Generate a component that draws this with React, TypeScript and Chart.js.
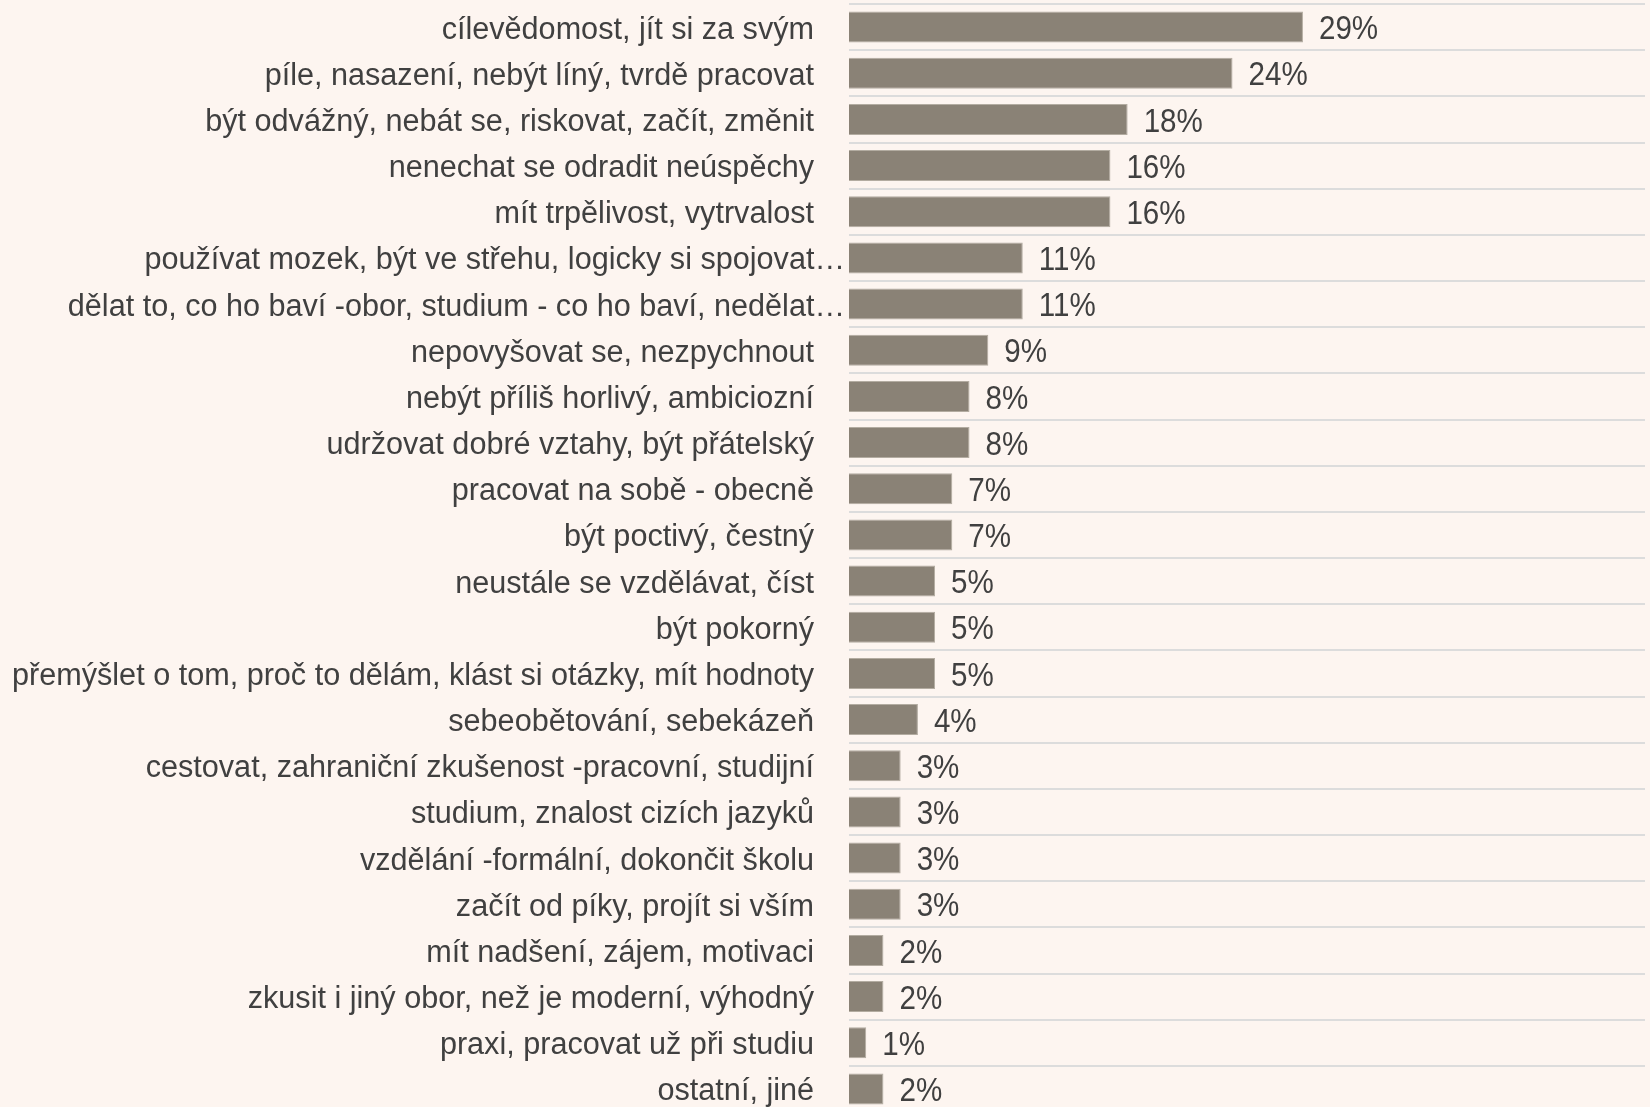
import React, { useEffect, useRef } from "react";
import { Chart, registerables } from "chart.js";

Chart.register(...registerables);

const categories: string[] = [
  "cílevědomost, jít si za svým",
  "píle, nasazení, nebýt líný, tvrdě pracovat",
  "být odvážný, nebát se, riskovat, začít, změnit",
  "nenechat se odradit neúspěchy",
  "mít trpělivost, vytrvalost",
  "používat mozek, být ve střehu, logicky si spojovat…",
  "dělat to, co ho baví -obor, studium - co ho baví, nedělat…",
  "nepovyšovat se, nezpychnout",
  "nebýt příliš horlivý, ambiciozní",
  "udržovat dobré vztahy, být přátelský",
  "pracovat na sobě - obecně",
  "být poctivý, čestný",
  "neustále se vzdělávat, číst",
  "být pokorný",
  "přemýšlet o tom, proč to dělám, klást si otázky, mít hodnoty",
  "sebeobětování, sebekázeň",
  "cestovat, zahraniční zkušenost -pracovní, studijní",
  "studium, znalost cizích jazyků",
  "vzdělání -formální, dokončit školu",
  "začít od píky, projít si vším",
  "mít nadšení, zájem, motivaci",
  "zkusit i jiný obor, než je moderní, výhodný",
  "praxi, pracovat už při studiu",
  "ostatní, jiné",
];

const values: number[] = [
  29.0, 24.5, 17.8, 16.7, 16.7, 11.1, 11.1, 8.9, 7.7, 7.7, 6.6, 6.6, 5.5, 5.5,
  5.5, 4.4, 3.3, 3.3, 3.3, 3.3, 2.2, 2.2, 1.1, 2.2,
];

const valueLabels: string[] = [
  "29%", "24%", "18%", "16%", "16%", "11%", "11%", "9%", "8%", "8%", "7%",
  "7%", "5%", "5%", "5%", "4%", "3%", "3%", "3%", "3%", "2%", "2%", "1%", "2%",
];

const FONT = "'Liberation Sans', Arial, sans-serif";
const TEXT_COLOR = "#404040";

function drawText(
  ctx: CanvasRenderingContext2D,
  text: string,
  x: number,
  y: number,
  align: CanvasTextAlign,
  sx: number
) {
  ctx.save();
  ctx.translate(x, y);
  ctx.scale(sx, 1);
  ctx.textAlign = align;
  ctx.fillText(text, 0, 0);
  ctx.restore();
}

const labelsPlugin = {
  id: "customLabels",
  afterDatasetsDraw(chart: any) {
    const ctx = chart.ctx as CanvasRenderingContext2D;
    const yScale = chart.scales.y;
    const xScale = chart.scales.x;
    const left = chart.chartArea.left;
    ctx.save();
    ctx.fillStyle = TEXT_COLOR;
    ctx.textBaseline = "alphabetic";
    categories.forEach((cat, i) => {
      const yc = yScale.getPixelForValue(i);
      const truncated = cat.endsWith("…");
      ctx.font = `30.6px ${FONT}`;
      drawText(ctx, cat, truncated ? left - 4 : left - 35, yc + 11.5, "right", 1);
      ctx.font = `34px ${FONT}`;
      drawText(ctx, valueLabels[i], xScale.getPixelForValue(values[i]) + 16, yc + 12.2, "left", 0.87);
    });
    ctx.restore();
  },
};

export default function App() {
  const canvasRef = useRef<HTMLCanvasElement | null>(null);

  useEffect(() => {
    document.body.style.margin = "0";
    document.body.style.overflow = "hidden";
    document.documentElement.style.overflow = "hidden";
    const canvas = canvasRef.current;
    if (!canvas) return;
    const chart = new Chart(canvas, {
      type: "bar",
      data: {
        labels: categories,
        datasets: [
          {
            data: values,
            backgroundColor: "#8a8276",
            borderColor: "#b3aca1",
            borderWidth: 1,
            categoryPercentage: 1,
            barPercentage: 0.67,
          },
        ],
      },
      options: {
        indexAxis: "y",
        animation: false,
        responsive: true,
        maintainAspectRatio: false,
        layout: { padding: { left: 849, right: 5, top: 4, bottom: 0 } },
        plugins: {
          legend: { display: false },
          tooltip: { enabled: false },
        },
        scales: {
          x: {
            display: false,
            min: 0,
            max: 50.85,
          },
          y: {
            offset: true,
            ticks: { display: false },
            border: { display: false },
            grid: {
              offset: true,
              color: "#dcdcdc",
              lineWidth: 2,
              drawTicks: false,
            },
          },
        },
      },
      plugins: [labelsPlugin],
    });
    return () => chart.destroy();
  }, []);

  return (
    <div
      style={{
        width: 1650,
        height: 1107,
        overflow: "hidden",
        background: "#fdf5f0",
        position: "relative",
      }}
    >
      <div style={{ width: 1650, height: 1112, position: "absolute", top: 0, left: 0 }}>
        <canvas ref={canvasRef} />
      </div>
    </div>
  );
}
